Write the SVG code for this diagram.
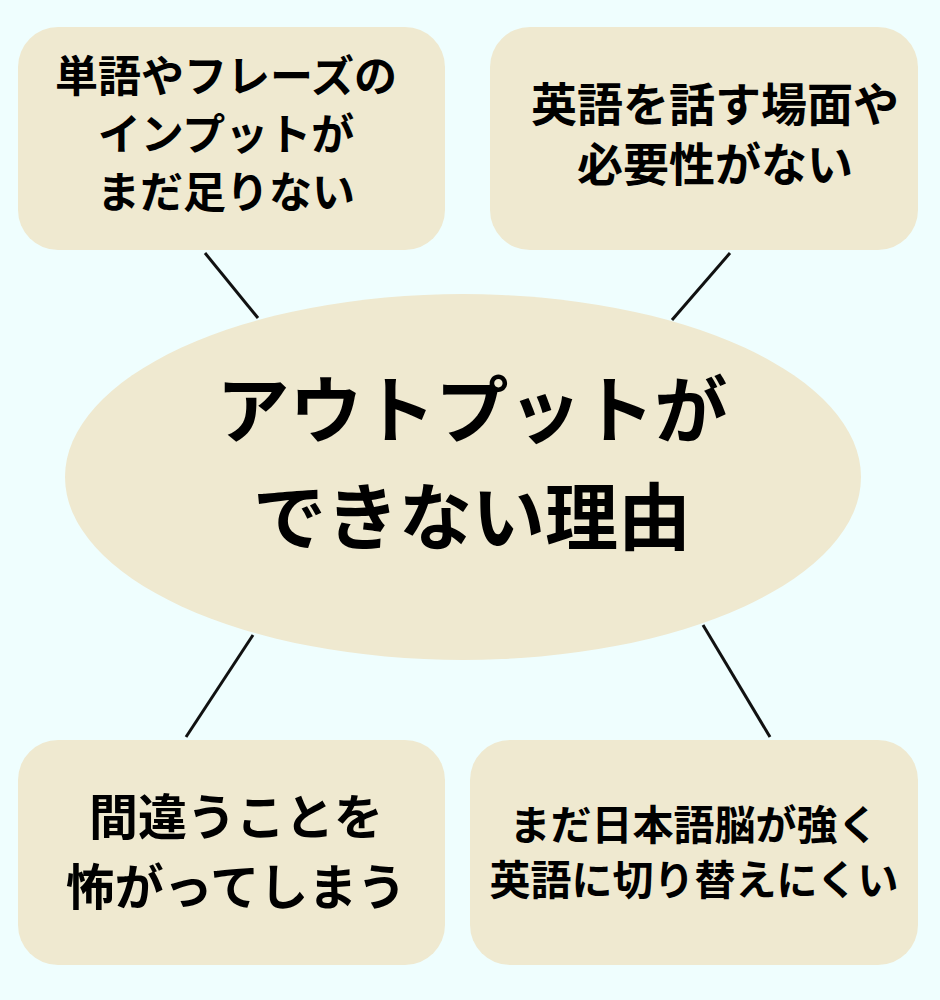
<svg xmlns="http://www.w3.org/2000/svg" width="940" height="1000" viewBox="0 0 940 1000">
<style>
.box{fill:#efe9d0}
.t{font-family:"Noto Sans CJK JP",sans-serif;font-weight:bold;fill:#000;text-anchor:middle;dominant-baseline:central}
.c line{stroke:#111;stroke-width:3}
</style>
<rect width="940" height="1000" fill="#effefe"/>
<g class="c" id="connectors">
<line x1="205" y1="253" x2="258" y2="318"/>
<line x1="730" y1="253" x2="672" y2="320"/>
<line x1="253" y1="635" x2="186" y2="737"/>
<line x1="703" y1="625" x2="770" y2="737"/>
</g>
<g id="center">
<ellipse class="box" cx="463" cy="477" rx="398" ry="183"/>
<text class="t" x="472" y="405" font-size="73">アウトプットが</text>
<text class="t" x="472" y="512" font-size="73">できない理由</text>
</g>
<g id="n1">
<rect class="box" x="18" y="27" width="427" height="223" rx="40"/>
<text class="t" x="226" y="73" font-size="43">単語やフレーズの</text>
<text class="t" x="226" y="131" font-size="43">インプットが</text>
<text class="t" x="226" y="189" font-size="43">まだ足りない</text>
</g>
<g id="n2">
<rect class="box" x="490" y="27" width="428" height="223" rx="40"/>
<text class="t" x="715" y="101" font-size="46">英語を話す場面や</text>
<text class="t" x="715" y="161" font-size="46">必要性がない</text>
</g>
<g id="n3">
<rect class="box" x="18" y="740" width="427" height="225" rx="40"/>
<text class="t" x="236" y="813" font-size="49">間違うことを</text>
<text class="t" x="236" y="883" font-size="49">怖がってしまう</text>
</g>
<g id="n4">
<rect class="box" x="470" y="740" width="448" height="225" rx="40"/>
<text class="t" x="694" y="822" font-size="41">まだ日本語脳が強く</text>
<text class="t" x="694" y="877" font-size="41">英語に切り替えにくい</text>
</g>
</svg>
